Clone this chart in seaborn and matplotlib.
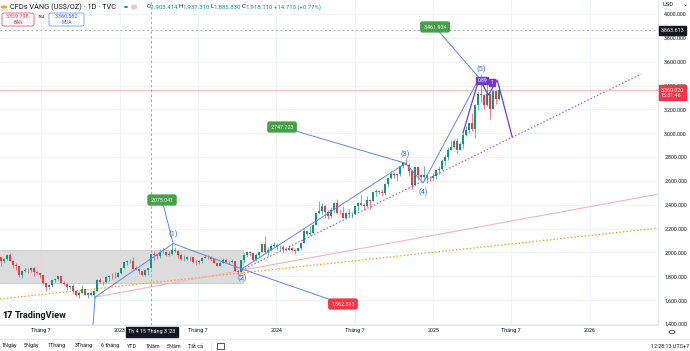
import numpy as np
import pandas as pd
import matplotlib
matplotlib.use("Agg")
import matplotlib.pyplot as plt
import matplotlib.dates as mdates
from matplotlib.patches import Rectangle, FancyBboxPatch, Circle
import seaborn as sns

# ---------------- data (weekly OHLC, USD/oz) ----------------
first_week = "2022-03-30"
opens = [1958, 1925, 1945, 1975, 1932, 1897, 1883, 1811, 1846, 1853, 1851, 1871, 1840, 1827,
         1811, 1742, 1708, 1727, 1766, 1775, 1802, 1747, 1737, 1712, 1717, 1675, 1643, 1660,
         1695, 1644, 1657, 1645, 1681, 1771, 1751, 1755, 1797, 1797, 1793, 1798,
         1824, 1866, 1920, 1926, 1928, 1865, 1865, 1842, 1811, 1856, 1868, 1989, 1978, 1969,
         2007, 2004, 1983, 1990, 2017, 2011, 1977, 1946, 1948, 1961, 1958, 1921, 1919, 1925,
         1955, 1962, 1959, 1943, 1914, 1889, 1915, 1940, 1919, 1924, 1925, 1848, 1833, 1933,
         1981, 2006, 1992, 1940, 1981, 2002, 2072, 2005, 2020, 2053,
         2063, 2045, 2049, 2029, 2018, 2039, 2024, 2013, 2036, 2083, 2179, 2155, 2165, 2230,
         2329, 2344, 2392, 2337, 2302, 2360, 2415, 2334, 2327, 2293, 2333, 2321, 2326, 2392,
         2411, 2400, 2386, 2443, 2431, 2507, 2512, 2503, 2497, 2577, 2622, 2658, 2653, 2657,
         2721, 2747, 2736, 2685, 2563, 2716, 2650, 2633, 2648, 2622, 2621,
         2640, 2690, 2703, 2770, 2798, 2861, 2883, 2936, 2858, 2910, 2984, 3023, 3084, 3037,
         3237, 3327, 3319, 3240, 3325, 3205, 3357, 3289]
highs = [1966, 1950, 1988, 1998, 1936, 1910, 1885, 1849, 1870, 1874, 1875, 1879, 1848, 1830,
         1814, 1745, 1739, 1767, 1788, 1807, 1802, 1765, 1740, 1729, 1735, 1688, 1675, 1729,
         1697, 1671, 1675, 1682, 1774, 1787, 1760, 1804, 1810, 1824, 1833, 1833,
         1869, 1922, 1937, 1949, 1960, 1890, 1870, 1847, 1858, 1870, 1989, 2010, 1987, 2032,
         2048, 2015, 2009, 2079, 2048, 2022, 1985, 1983, 1972, 1971, 1962, 1936, 1935, 1963,
         1987, 1982, 1968, 1948, 1916, 1922, 1953, 1942, 1932, 1947, 1926, 1850, 1933, 1997,
         2009, 2010, 1993, 1993, 2007, 2075, 2135, 2048, 2071, 2088,
         2079, 2062, 2062, 2041, 2065, 2050, 2031, 2041, 2088, 2195, 2180, 2222, 2236, 2330,
         2431, 2418, 2395, 2353, 2378, 2422, 2450, 2364, 2388, 2341, 2368, 2339, 2392, 2424,
         2483, 2412, 2477, 2450, 2509, 2531, 2528, 2529, 2585, 2625, 2685, 2671, 2657, 2722,
         2758, 2790, 2750, 2690, 2721, 2721, 2657, 2726, 2653, 2639, 2665,
         2697, 2726, 2786, 2817, 2882, 2942, 2955, 2956, 2930, 3005, 3057, 3087, 3167, 3245,
         3357, 3500, 3327, 3435, 3326, 3366, 3366, 3403]
lows = [1890, 1915, 1940, 1925, 1872, 1850, 1797, 1787, 1837, 1828, 1835, 1805, 1816, 1785,
        1732, 1681, 1697, 1711, 1754, 1771, 1745, 1727, 1688, 1691, 1654, 1639, 1615, 1659,
        1640, 1617, 1638, 1617, 1674, 1747, 1727, 1740, 1765, 1774, 1784, 1795,
        1822, 1866, 1896, 1912, 1861, 1853, 1818, 1805, 1805, 1810, 1866, 1934, 1945, 1950,
        1993, 1969, 1974, 1977, 2005, 1952, 1937, 1932, 1940, 1925, 1910, 1893, 1902, 1915,
        1950, 1942, 1929, 1912, 1885, 1884, 1913, 1915, 1901, 1913, 1846, 1810, 1833, 1908,
        1960, 1974, 1932, 1931, 1965, 2001, 1996, 1973, 2016, 2047,
        2017, 2013, 2002, 2010, 2017, 2015, 1984, 2010, 2025, 2078, 2146, 2146, 2163, 2228,
        2326, 2324, 2292, 2277, 2291, 2332, 2325, 2322, 2287, 2290, 2303, 2293, 2319, 2352,
        2393, 2353, 2379, 2364, 2430, 2470, 2491, 2472, 2485, 2546, 2614, 2624, 2603, 2638,
        2708, 2730, 2643, 2536, 2563, 2605, 2613, 2624, 2583, 2598, 2596,
        2614, 2656, 2688, 2730, 2772, 2857, 2880, 2833, 2858, 2880, 2980, 3000, 3015, 2957,
        3193, 3260, 3202, 3232, 3121, 3205, 3245, 3280]
closes = [1925, 1945, 1975, 1932, 1897, 1883, 1811, 1846, 1853, 1851, 1871, 1840, 1827, 1811,
          1742, 1708, 1727, 1766, 1775, 1802, 1747, 1737, 1712, 1717, 1675, 1643, 1660, 1695,
          1644, 1657, 1645, 1681, 1771, 1751, 1755, 1797, 1797, 1793, 1798, 1824,
          1866, 1920, 1926, 1928, 1865, 1865, 1842, 1811, 1856, 1868, 1989, 1978, 1969, 2007,
          2004, 1983, 1990, 2017, 2011, 1977, 1946, 1948, 1961, 1958, 1921, 1919, 1925, 1955,
          1962, 1959, 1943, 1914, 1889, 1915, 1940, 1919, 1924, 1925, 1848, 1833, 1933, 1981,
          2006, 1992, 1940, 1981, 2002, 2072, 2005, 2020, 2053, 2063,
          2045, 2049, 2029, 2018, 2039, 2024, 2013, 2036, 2083, 2179, 2155, 2165, 2230, 2329,
          2344, 2392, 2337, 2302, 2360, 2415, 2334, 2327, 2293, 2333, 2321, 2326, 2392, 2411,
          2400, 2386, 2443, 2431, 2507, 2512, 2503, 2497, 2577, 2622, 2658, 2653, 2657, 2721,
          2747, 2736, 2685, 2563, 2716, 2650, 2633, 2648, 2622, 2621, 2640,
          2690, 2703, 2770, 2798, 2861, 2883, 2936, 2858, 2910, 2984, 3023, 3084, 3037, 3237,
          3327, 3319, 3240, 3325, 3205, 3357, 3289, 3360]

# Elliott-wave anchors (0)..(5)
wave_labels = ["(1)", "(2)", "(3)", "(4)", "(5)"]
wave_dates = ["2022-11-04", "2023-05-05", "2023-10-12", "2024-10-28", "2024-12-08", "2025-04-18"]
wave_prices = [1626, 2075.041, 1862.313, 2747.723, 2583, 3461.924]

# price labels attached to wave anchors
tag_texts = ["2,075.041", "1,862.313", "2,747.723", "3,461.924"]
tag_dates = ["2023-04-09", "2024-06-04", "2024-01-14", "2025-01-05"]
tag_prices = [2440, 1568, 3052, 3891]
tag_colors = ["#43a047", "#f23645", "#43a047", "#43a047"]
tag_anchor = [1, 2, 3, 5]

# purple pattern
pat_dates = ["2025-03-11", "2025-04-18", "2025-05-09", "2025-05-30", "2025-07-04"]
pat_prices = [3002, 3463, 3320, 3446, 2968]

# trend lines (start, end)
orange_line = (["2022-03-27", "2026-06-11"], [1610, 2205])
pink_line = (["2022-11-04", "2026-06-11"], [1626, 2490])
purple_dots = (["2023-10-12", "2026-05-01"], [1853, 3497])
zone = ("2022-03-20", "2023-10-15", 1745, 2020)

last_price = 3360.020
cross_price = 3863.613
cross_date = "2023-03-15"

price_ticks = [1400, 1600, 1800, 2000, 2200, 2400, 2600, 2800, 3000, 3200, 3400, 3600, 3800, 4000]
time_tick_dates = ["2022-07-01", "2023-01-01", "2023-07-01", "2024-01-01", "2024-07-01",
                   "2025-01-01", "2025-07-01", "2026-01-01"]
time_tick_labels = ["Tháng 7", "2023", "Tháng 7", "2024", "Tháng 7", "2025", "Tháng 7", "2026"]

# ---------------- style ----------------
sns.set_theme(style="white")
plt.rcParams["font.family"] = ["Roboto", "DejaVu Sans"]

UP, DOWN = "#089981", "#f23645"
BLUE = "#5b86f2"
TXT = "#131722"

W, H = 690, 351
fig = plt.figure(figsize=(W / 100, H / 100), dpi=100)
fig.patch.set_facecolor("white")
ax = fig.add_axes([0, (H - 325) / H, 658 / W, 325 / H])
ax.set_facecolor("white")


def d(s):
    return mdates.date2num(pd.to_datetime(s))


def P(x, y):
    return x / W, 1 - y / H


ax.set_xlim(d("2022-03-27"), d("2026-06-09"))
ax.set_ylim(1392, 4117)

# grid
for td in time_tick_dates:
    ax.axvline(d(td), color="#f0f3fa", lw=0.7, zorder=0)
for p in price_ticks:
    ax.axhline(p, color="#f0f3fa", lw=0.7, zorder=0)

# zone rectangle
ax.add_patch(Rectangle((d(zone[0]), zone[2]), d(zone[1]) - d(zone[0]), zone[3] - zone[2],
                       facecolor="#d6d6d6", edgecolor="#b8b8b8", lw=0.5, alpha=0.85, zorder=1))

# candles
df = pd.DataFrame({"date": pd.date_range(first_week, periods=len(closes), freq="7D"),
                   "open": opens, "high": highs, "low": lows, "close": closes})
df["x"] = mdates.date2num(df["date"])
df["up"] = df["close"] >= df["open"]
cols = np.where(df["up"], UP, DOWN)
ax.vlines(df["x"], df["low"], df["high"], colors=cols, lw=0.45, zorder=3)
body_lo = np.minimum(df["open"], df["close"])
body_h = np.maximum(np.abs(df["close"] - df["open"]), 3)
ax.bar(df["x"], body_h, bottom=body_lo, width=4.8, color=cols, linewidth=0, zorder=3)

# trend lines
ax.plot([d(s) for s in orange_line[0]], orange_line[1], color="#f7a21b", lw=0.9,
        ls=(0, (1.2, 1.6)), zorder=2, clip_on=True)
ax.plot([d(s) for s in pink_line[0]], pink_line[1], color="#f6b3c0", lw=0.8, zorder=2)
ax.plot([d(s) for s in purple_dots[0]], purple_dots[1], color="#b45ad8", lw=0.9,
        ls=(0, (1.2, 1.6)), zorder=2)

# horizontal lines
ax.axhline(last_price, color="#f7c1c6", lw=0.9, zorder=2)
ax.axhline(cross_price, color="#a0a4ad", lw=0.8, ls=(0, (1.5, 2.5)), zorder=2)
ax.axvline(d(cross_date), color="#a0a4ad", lw=0.7, ls=(0, (2.5, 2.5)), zorder=2)

# wave lines (seaborn)
wave_df = pd.DataFrame({"x": [d(s) for s in wave_dates], "y": wave_prices})
sns.lineplot(data=wave_df, x="x", y="y", sort=False, color=BLUE, lw=0.7, ax=ax, zorder=4)
# leader line from (0) down to off-chart tag
ax.plot([d(wave_dates[0]), d("2022-10-28")], [wave_prices[0], 1300], color=BLUE, lw=0.7,
        zorder=4)
# leader lines to tags
for t, td, tp, ai in zip(tag_texts, tag_dates, tag_prices, tag_anchor):
    ax.plot([d(td), d(wave_dates[ai])], [tp, wave_prices[ai]], color=BLUE, lw=0.7, zorder=4)
for t, td, tp, c in zip(tag_texts, tag_dates, tag_prices, tag_colors):
    ax.text(d(td), tp, t, color="white", fontsize=3.9, ha="center", va="center", zorder=6,
            bbox=dict(boxstyle="round,pad=0.45,rounding_size=0.3", fc=c, ec=c))

# wave labels
offs = [(0, 9), (0, -10), (0, 9), (0, -10), (2, 9)]
for lab, dt, pr, (ox, oy) in zip(wave_labels, wave_dates[1:], wave_prices[1:], offs):
    ax.annotate(lab, (d(dt), pr), xytext=(ox * 0.72, oy * 0.72), textcoords="offset points",
                ha="center", va="center", color="#2962ff", fontsize=5.4, zorder=6)

# purple pattern
ax.plot([d(s) for s in pat_dates], pat_prices, color="#6f3cc9", lw=0.9, zorder=5)
ax.text(d("2025-04-25"), 3440, "0.89", color="white", fontsize=3.6, ha="center", va="center",
        zorder=7, bbox=dict(boxstyle="square,pad=0.25", fc="#6f3cc9", ec="#6f3cc9"))
ax.text(d("2025-05-18"), 3424, "1", color="white", fontsize=3.6, ha="center", va="center",
        zorder=7, bbox=dict(boxstyle="square,pad=0.25", fc="#6f3cc9", ec="#6f3cc9"))

# axes cosmetics
for s in ["top", "left"]:
    ax.spines[s].set_visible(False)
for s in ["right", "bottom"]:
    ax.spines[s].set_color("#e0e3eb")
    ax.spines[s].set_linewidth(0.6)
ax.yaxis.tick_right()
ax.set_yticks(price_ticks)
ax.set_yticklabels([f"{p:,.3f}" for p in price_ticks])
ax.tick_params(axis="y", length=0, pad=4.5, labelsize=3.9, labelcolor=TXT)
ax.set_xticks([d(s) for s in time_tick_dates])
ax.set_xticklabels(time_tick_labels)
ax.tick_params(axis="x", length=0, pad=2.5, labelsize=3.9, labelcolor=TXT)
ax.set_xlabel("")
ax.set_ylabel("")

# right-axis tags
yt = ax.get_yaxis_transform()
ax.text(1.004, cross_price, "3,863.613", transform=yt, color="white", fontsize=3.9,
        ha="left", va="center", clip_on=False, zorder=8,
        bbox=dict(boxstyle="square,pad=0.35", fc="#131722", ec="#131722"))
ax.text(1.004, last_price - 20, "3,360.020\n15:31:46", transform=yt, color="white",
        fontsize=3.9, ha="left", va="center", clip_on=False, zorder=8, linespacing=1.25,
        bbox=dict(boxstyle="square,pad=0.35", fc="#f23645", ec="#f23645"))

# crosshair time tag
fig.text(*P(152, 332), "Th 4 15 Tháng 3 '23", color="white", fontsize=3.9, ha="center",
         va="center", bbox=dict(boxstyle="square,pad=0.4", fc="#131722", ec="#131722"))

# ---------------- header ----------------
fig.add_artist(Circle(P(4, 7), 3.2 / W, transform=fig.transFigure, fc="#f0a81c", ec="none"))
fig.text(*P(10, 7), "CFDs VÀNG (US$/OZ) · 1D · TVC", color=TXT, fontsize=5.3, ha="left",
         va="center")
fig.add_artist(Circle(P(126, 7), 2.0 / W, transform=fig.transFigure, fc="#089981", ec="none"))
fig.add_artist(FancyBboxPatch(P(131, 9.5), 6 / W, 5 / H, boxstyle="round,pad=0,rounding_size=0.004",
                              transform=fig.transFigure, fc="#f7c4cb", ec="none"))

fig.canvas.draw()
rend = fig.canvas.get_renderer()
x = 146.5
parts = [("O", TXT), ("1,903.414 ", UP), ("H", TXT), ("1,937.310 ", UP), ("L", TXT),
         ("1,885.830 ", UP), ("C", TXT), ("1,918.110 ", UP), ("+14.710 (+0.77%)", UP)]
for s, c in parts:
    t = fig.text(*P(x, 7), s, color=c, fontsize=4.3, ha="left", va="center")
    x += t.get_window_extent(renderer=rend).width

# bid / ask boxes
fig.add_artist(FancyBboxPatch(P(2, 26), 32 / W, 13 / H, boxstyle="round,pad=0,rounding_size=0.004",
                              transform=fig.transFigure, fc="white", ec="#f23645", lw=0.5))
fig.text(*P(18, 16.5), "3,359.798", color="#f23645", fontsize=3.9, ha="center", va="center")
fig.text(*P(18, 23), "BÁN", color="#f23645", fontsize=3.4, ha="center", va="center")
fig.text(*P(41, 17), "784", color=TXT, fontsize=3.0, ha="center", va="center")
fig.add_artist(FancyBboxPatch(P(49, 26), 35 / W, 13 / H, boxstyle="round,pad=0,rounding_size=0.004",
                              transform=fig.transFigure, fc="white", ec="#5b86f2", lw=0.5))
fig.text(*P(66.5, 16.5), "3,360.582", color="#2962ff", fontsize=3.9, ha="center", va="center")
fig.text(*P(66.5, 23), "MUA", color="#2962ff", fontsize=3.4, ha="center", va="center")

fig.text(*P(663, 5), "USD", color=TXT, fontsize=4.2, ha="left", va="center")
fig.text(*P(685, 5), "⌄", color=TXT, fontsize=4.2, ha="center", va="center")

# TradingView logo
fig.text(*P(2, 316), "17", color=TXT, fontsize=6.5, fontweight="heavy", ha="left", va="center")
fig.text(*P(15, 316), "TradingView", color=TXT, fontsize=6.6, fontweight="bold", ha="left",
         va="center")

# settings icon
fig.add_artist(Circle(P(672, 332), 3 / W, transform=fig.transFigure, fc="none", ec=TXT, lw=0.5))

# bottom toolbar
fig.add_artist(plt.Line2D([0, 1], [1 - 339 / H] * 2, transform=fig.transFigure,
                          color="#e0e3eb", lw=0.6))
tb = [("1Ngày", 2), ("5Ngày", 24), ("1Tháng", 48), ("3Tháng", 75), ("6 tháng", 101),
      ("YTD", 127), ("1Năm", 146), ("5Năm", 167), ("Tất cả", 188)]
for s, xx in tb:
    fig.text(*P(xx, 346), s, color=TXT, fontsize=3.9, ha="left", va="center")
fig.add_artist(plt.Line2D([211 / W] * 2, [1 - 342 / H, 1 - 350 / H], transform=fig.transFigure,
                          color="#e0e3eb", lw=0.6))
fig.add_artist(Rectangle(P(217, 349), 7 / W, 6 / H, transform=fig.transFigure, fc="none",
                         ec=TXT, lw=0.5))
fig.text(*P(689, 346), "12:28:13 UTC+7", color=TXT, fontsize=3.9, ha="right", va="center")

fig.savefig("out.png", dpi=100, facecolor="white")
